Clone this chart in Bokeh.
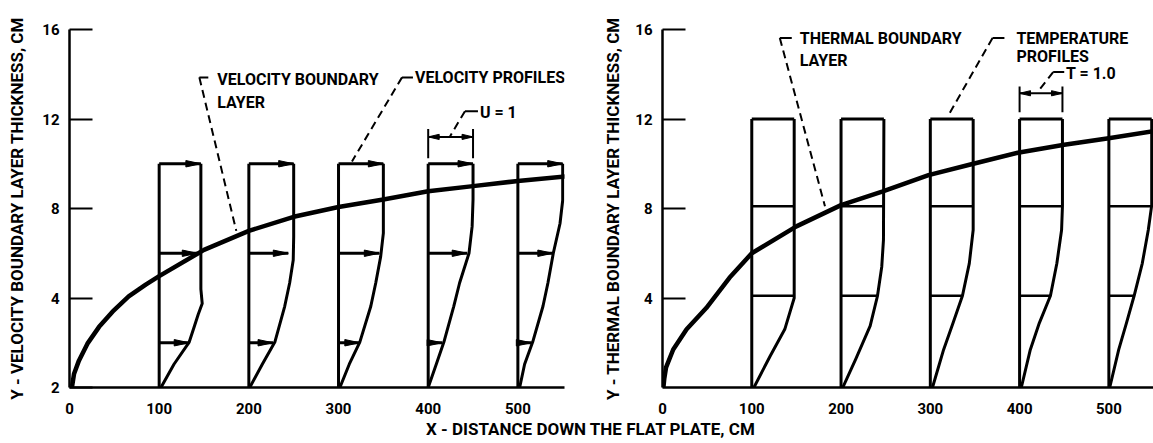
import numpy as np
from bokeh.plotting import figure
from bokeh.layouts import column, row
from bokeh.models import Range1d, FixedTicker, Label
from bokeh.embed import file_html
from bokeh.resources import INLINE

FONT = "Roboto"

# ---------------- data ----------------
X_TICKS = [0, 100, 200, 300, 400, 500]
X_TICK_LABELS = ["0", "100", "200", "300", "400", "500"]
Y_TICKS_LEFT = [0, 4, 8, 12, 16]
Y_TICK_LABELS_LEFT = ["2", "4", "8", "12", "16"]
Y_TICKS_RIGHT = [4, 8, 12, 16]

STATIONS = [100, 200, 300, 400, 500]

# velocity boundary layer thickness (left panel)
VEL_BL_X = [2.5, 3, 5, 10.5, 20, 33, 48, 66, 85, 100, 150, 200, 250, 300, 350, 400, 450, 500, 556]
VEL_BL_Y = [0, 0.08, 0.6, 1.2, 1.96, 2.71, 3.39, 4.07, 4.6, 4.98, 6.15, 7.0, 7.63, 8.07, 8.4, 8.77,
            9.0, 9.23, 9.44]

VEL_PROFILE_TOP = 10
VEL_UNIT_WIDTH = 50          # U = 1
VEL_PROF_Y = [
    [0, 1.04, 2.03, 2.7, 3.26, 3.75, 4.4, 10],
    [0, 1.04, 2.03, 3.63, 4.67, 5.7, 6.74, 10],
    [0, 1.04, 2.03, 3.63, 4.67, 5.85, 6.9, 10],
    [0, 1.04, 2.03, 3.63, 4.67, 6.0, 7.2, 8.4, 10],
    [0, 1.04, 2.03, 3.63, 4.67, 6.0, 7.33, 8.37, 10],
]
VEL_PROF_U = [
    [0.04, 0.33, 0.67, 0.78, 0.87, 0.96, 0.93, 0.93],
    [0.02, 0.30, 0.58, 0.80, 0.91, 0.99, 1.0, 1.0],
    [0.03, 0.24, 0.475, 0.72, 0.83, 0.94, 1.0, 1.0],
    [0.0, 0.18, 0.35, 0.57, 0.70, 0.91, 0.98, 1.0, 1.0],
    [0.04, 0.15, 0.33, 0.56, 0.67, 0.79, 0.94, 1.0, 1.0],
]
VEL_ARROW_LEVELS = [10, 6, 2]
VEL_ARROW_U = [
    [0.93, 1.0, 1.0, 1.0, 1.0],
    [0.85, 0.88, 0.91, 0.87, 0.78],
    [0.67, 0.54, 0.475, 0.31, 0.30],
]

# thermal boundary layer thickness (right panel)
TH_BL_X = [1, 2, 4, 12, 27, 49, 75, 100, 150, 200, 246, 298, 346, 398, 450, 498, 550]
TH_BL_Y = [0, 0.4, 0.9, 1.7, 2.6, 3.55, 4.9, 6.0, 7.2, 8.15, 8.75, 9.49, 9.98, 10.49, 10.85, 11.13, 11.46]

TH_PROFILE_TOP = 12
TH_UNIT_WIDTH = 48           # T = 1.0
TH_PROF_Y = [
    [0, 1.41, 2.6, 4.0, 12],
    [0, 1.26, 2.75, 4.09, 5.4, 6.6, 12],
    [0, 1.69, 2.88, 4.1, 5.55, 7.04, 12],
    [0, 1.69, 2.88, 4.1, 5.55, 7.04, 8.1, 12],
    [0, 1.69, 2.88, 4.1, 5.55, 7.04, 8.15, 12],
]
TH_PROF_U = [
    [0.05, 0.43, 0.77, 0.99, 0.99],
    [0.04, 0.34, 0.68, 0.85, 0.95, 0.99, 1.0],
    [0.05, 0.31, 0.53, 0.75, 0.91, 1.0, 1.0],
    [0.04, 0.25, 0.46, 0.72, 0.87, 0.98, 1.0, 1.0],
    [0.02, 0.23, 0.41, 0.59, 0.78, 0.92, 1.0, 1.0],
]
TH_LINE_LEVELS = [8.1, 4.1]
TH_LINE_U = [
    [1.0, 1.0, 1.0, 1.0, 1.0],
    [0.98, 0.85, 0.75, 0.72, 0.59],
]

# ---------------- layout constants ----------------
BORDER_TOP = 29
BORDER_BOTTOM = 28
FRAME_H = 359
FIG_H = BORDER_TOP + FRAME_H + BORDER_BOTTOM
Y_END = 16

L_W, L_BL, L_BR, L_XEND = 600, 69, 36, 552
R_W, R_BL, R_BR, R_XEND = 553, 59, 0, 550

LINE_W = 3


def style_text(lbl, size="16px"):
    lbl.text_font = FONT
    lbl.text_font_style = "bold"
    lbl.text_font_size = size
    lbl.text_color = "black"
    return lbl


def make_panel(width, bl, br, xend, yticks, ytitle, label_standoff):
    p = figure(width=width, height=FIG_H, x_range=Range1d(0, xend), y_range=Range1d(0, Y_END),
               output_backend="svg", toolbar_location=None,
               min_border_left=bl, min_border_right=br,
               min_border_top=BORDER_TOP, min_border_bottom=BORDER_BOTTOM)
    p.grid.visible = False
    p.outline_line_color = None
    p.background_fill_color = "white"
    p.border_fill_color = "white"

    xa = p.xaxis[0]
    xa.ticker = FixedTicker(ticks=X_TICKS)
    xa.major_label_overrides = {t: s for t, s in zip(X_TICKS, X_TICK_LABELS)}
    xa.major_tick_line_color = None
    xa.minor_tick_line_color = None
    xa.axis_line_width = 2.5
    xa.axis_line_color = "black"
    xa.major_label_standoff = 9
    xa.major_label_text_font = FONT
    xa.major_label_text_font_style = "bold"
    xa.major_label_text_font_size = "15px"
    xa.major_label_text_color = "black"

    ya = p.yaxis[0]
    ya.ticker = FixedTicker(ticks=yticks)
    ya.major_tick_in = 23
    ya.major_tick_out = 0
    ya.major_tick_line_width = 2
    ya.major_tick_line_color = "black"
    ya.minor_tick_line_color = None
    ya.axis_line_width = 2.5
    ya.axis_line_color = "black"
    ya.major_label_standoff = 10
    ya.major_label_text_font = FONT
    ya.major_label_text_font_style = "bold"
    ya.major_label_text_font_size = "15px"
    ya.major_label_text_color = "black"
    ya.axis_label = ytitle
    ya.axis_label_text_font = FONT
    ya.axis_label_text_font_style = "bold"
    ya.axis_label_text_font_size = "17px"
    ya.axis_label_text_color = "black"
    ya.axis_label_standoff = label_standoff
    return p


def arrow_heads(p, tip_x, tip_y, direction, length_px, half_px, xscale, yscale):
    xs, ys = [], []
    for tx, ty, d in zip(tip_x, tip_y, direction):
        L = length_px / xscale * d
        H = half_px / yscale
        xs.append([tx, tx - L, tx - L])
        ys.append([ty, ty + H, ty - H])
    p.patches(xs, ys, fill_color="black", line_color="black", line_width=1)


def leader(p, corner, end, tail):
    # short solid tail next to the text, dashed line down to the target
    p.line([corner[0], tail], [corner[1], corner[1]], line_color="black", line_width=2)
    p.line([corner[0], end[0]], [corner[1], end[1]], line_color="black", line_width=2,
           line_dash="8 5")


# ================= LEFT PANEL =================
p1 = make_panel(L_W, L_BL, L_BR, L_XEND, Y_TICKS_LEFT,
                "Y - VELOCITY BOUNDARY LAYER THICKNESS, CM", 12)
p1.yaxis[0].major_label_overrides = {t: s for t, s in zip(Y_TICKS_LEFT, Y_TICK_LABELS_LEFT)}
xs1 = (L_W - L_BL - L_BR) / L_XEND
ys_ = FRAME_H / Y_END

for i, x0 in enumerate(STATIONS):
    p1.line([x0, x0], [0, VEL_PROFILE_TOP], line_color="black", line_width=LINE_W)
    cx = [x0 + u * VEL_UNIT_WIDTH for u in VEL_PROF_U[i]]
    p1.line(cx, VEL_PROF_Y[i], line_color="black", line_width=LINE_W, line_join="round")
    for lvl, us in zip(VEL_ARROW_LEVELS, VEL_ARROW_U):
        tip = x0 + us[i] * VEL_UNIT_WIDTH
        p1.line([x0, tip], [lvl, lvl], line_color="black", line_width=LINE_W)
        arrow_heads(p1, [tip], [lvl], [1], 15, 3.2, xs1, ys_)

p1.line(VEL_BL_X, VEL_BL_Y, line_color="black", line_width=4.5, line_join="round", line_cap="round")

# dimension U = 1
d0 = STATIONS[3]
d1 = d0 + VEL_UNIT_WIDTH
dim_y = 11.2
p1.line([d0, d1], [dim_y, dim_y], line_color="black", line_width=2)
p1.segment([d0, d1], [10.25, 10.25], [d0, d1], [11.55, 11.55], line_color="black", line_width=2)
arrow_heads(p1, [d0, d1], [dim_y, dim_y], [-1, 1], 11, 2.6, xs1, ys_)

leader(p1, (144.8, 13.86), (186, 7.0), 154.8)
leader(p1, (370.8, 13.86), (315, 10.1), 383)
leader(p1, (441, 12.35), (424, 11.2), 455.5)

for txt, x, y in [("VELOCITY BOUNDARY", 164.8, 13.77), ("LAYER", 164.8, 12.75),
                  ("VELOCITY PROFILES", 385.3, 13.86), ("U = 1", 457.7, 12.3)]:
    p1.add_layout(style_text(Label(x=x, y=y, text=txt, text_baseline="middle", text_align="left")))

# ================= RIGHT PANEL =================
p2 = make_panel(R_W, R_BL, R_BR, R_XEND, Y_TICKS_RIGHT,
                "Y - THERMAL BOUNDARY LAYER THICKNESS, CM", 9)
xs2 = (R_W - R_BL - R_BR) / R_XEND

for i, x0 in enumerate(STATIONS):
    p2.line([x0, x0], [0, TH_PROFILE_TOP], line_color="black", line_width=LINE_W)
    cx = [x0 + u * TH_UNIT_WIDTH for u in TH_PROF_U[i]]
    p2.line(cx, TH_PROF_Y[i], line_color="black", line_width=LINE_W, line_join="round")
    p2.line([x0, x0 + TH_PROF_U[i][-1] * TH_UNIT_WIDTH], [TH_PROFILE_TOP, TH_PROFILE_TOP],
            line_color="black", line_width=LINE_W)
    for lvl, us in zip(TH_LINE_LEVELS, TH_LINE_U):
        p2.line([x0, x0 + us[i] * TH_UNIT_WIDTH], [lvl, lvl], line_color="black", line_width=2.5)

p2.line(TH_BL_X, TH_BL_Y, line_color="black", line_width=4.5, line_join="round", line_cap="round")

t0 = STATIONS[3]
t1 = t0 + TH_UNIT_WIDTH
tdim_y = 13.15
p2.line([t0, t1], [tdim_y, tdim_y], line_color="black", line_width=2)
p2.segment([t0, t1], [12.3, 12.3], [t0, t1], [13.45, 13.45], line_color="black", line_width=2)
arrow_heads(p2, [t0, t1], [tdim_y, tdim_y], [-1, 1], 11, 2.6, xs2, ys_)

leader(p2, (131.4, 15.62), (182, 8.1), 144.8)
leader(p2, (369.7, 15.62), (320, 12.15), 383)
leader(p2, (437.6, 14.1), (422, 13.3), 450)

for txt, x, y in [("THERMAL BOUNDARY", 153.7, 15.58), ("LAYER", 153.7, 14.6),
                  ("TEMPERATURE", 396.4, 15.58), ("PROFILES", 396.4, 14.8),
                  ("T = 1.0", 452, 14.05)]:
    p2.add_layout(style_text(Label(x=x, y=y, text=txt, text_baseline="middle", text_align="left")))

# ================= shared x title =================
P3_H = 443 - FIG_H
p3 = figure(width=L_W + R_W, height=P3_H, x_range=Range1d(0, 1), y_range=Range1d(0, 1),
            output_backend="svg", toolbar_location=None,
            x_axis_location=None, y_axis_location=None, min_border=0)
p3.grid.visible = False
p3.outline_line_color = None
p3.add_layout(style_text(Label(x=0.512, y=0.52, text="X - DISTANCE DOWN THE FLAT PLATE, CM",
                               text_baseline="middle", text_align="center"), size="17px"))

layout = column(row(p1, p2), p3)
open("out.html", "w").write(file_html(layout, INLINE))
